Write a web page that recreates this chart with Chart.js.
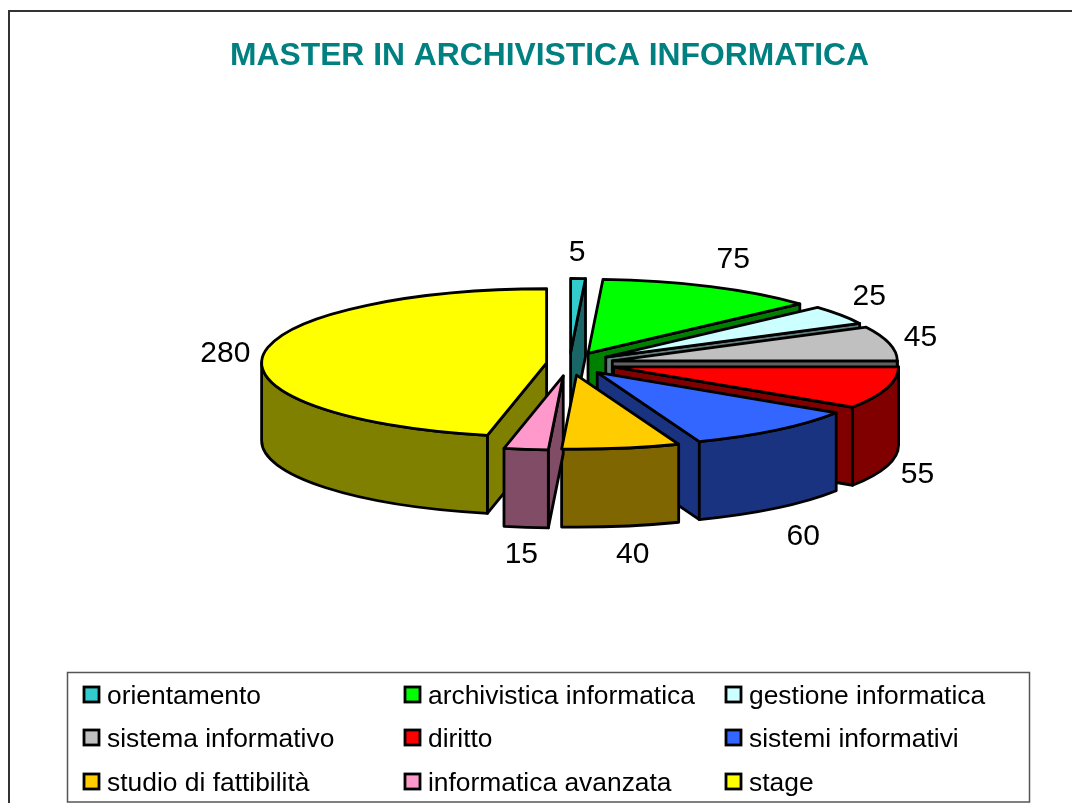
<!DOCTYPE html>
<html><head><meta charset="utf-8">
<script src="https://cdn.jsdelivr.net/npm/chart.js@4"></script>
<style>html,body{margin:0;padding:0;background:#fff;overflow:hidden}#w{position:absolute;left:0;top:0;width:1072px;height:803px}</style>
</head><body><div id="w"><canvas id="c" width="1072" height="803"></canvas></div>
<script>
const titleText = "MASTER IN ARCHIVISTICA INFORMATICA";
const categories = ["orientamento","archivistica informatica","gestione informatica","sistema informativo","diritto","sistemi informativi","studio di fattibilità","informatica avanzata","stage"];
const values = [5,75,25,45,55,60,40,15,280];
const colors = ["#33CCCC","#00FF00","#CCFFFF","#C0C0C0","#FF0000","#3366FF","#FFCC00","#FF99CC","#FFFF00"];
const wallColors = ["#1A6666","#008000","#668080","#606060","#800000","#1A3380","#806600","#804C66","#808000"];
const explode = [42,43,44,44,46,44,45,48,23];
const labelNudgeX = [-2,7,-1,-4,-4,4,6,0,-2];
const labelNudgeY = [0,-3,-4,0,1,9,3,2,1];

const FONT = '"Liberation Sans", Arial, sans-serif';
const TILT = 0.26, DEPTH = 78, LW = 2.8;

function geom(el, i){
  const mid = (el.startAngle + el.endAngle) / 2, d = explode[i];
  return {
    x: el.x + d * Math.cos(mid),
    y: el.y + TILT * d * Math.sin(mid),
    r: el.outerRadius, a1: el.startAngle, a2: el.endAngle, mid
  };
}
function pt(g, a, dz){ return [g.x + g.r * Math.cos(a), g.y + TILT * g.r * Math.sin(a) + (dz || 0)]; }
function paint(ctx, fill){
  ctx.fillStyle = fill; ctx.fill();
  ctx.lineWidth = LW; ctx.strokeStyle = "#000"; ctx.lineJoin = "round"; ctx.stroke();
}
function radialWall(ctx, g, a, fill){
  const p = pt(g, a);
  ctx.beginPath();
  ctx.moveTo(g.x, g.y); ctx.lineTo(p[0], p[1]);
  ctx.lineTo(p[0], p[1] + DEPTH); ctx.lineTo(g.x, g.y + DEPTH); ctx.closePath();
  paint(ctx, fill);
}
function outerWall(ctx, g, fill){
  const from = Math.max(g.a1, 0), to = Math.min(g.a2, Math.PI);
  if (to <= from) return;
  ctx.beginPath();
  ctx.ellipse(g.x, g.y, g.r, TILT * g.r, 0, from, to, false);
  ctx.ellipse(g.x, g.y + DEPTH, g.r, TILT * g.r, 0, to, from, true);
  ctx.closePath();
  paint(ctx, fill);
}

const pie3d = {
  id: "pie3d",
  afterLayout(chart){ chart.titleBlock.left -= 20; chart.titleBlock.right -= 20; },
  beforeDraw(chart){
    const ctx = chart.ctx;
    ctx.save();
    ctx.fillStyle = "#fff"; ctx.fillRect(0, 0, chart.width, chart.height);
    ctx.strokeStyle = "#333"; ctx.lineWidth = 2;
    ctx.beginPath(); ctx.moveTo(9, 803); ctx.lineTo(9, 11); ctx.lineTo(1072, 11); ctx.stroke();
    ctx.restore();
  },
  beforeDatasetDraw(chart, args){
    const ctx = chart.ctx, arcs = chart.getDatasetMeta(args.index).data;
    const gs = arcs.map(geom);
    const order = arcs.map((_, i) => i).sort((p, q) =>
      (gs[p].y + TILT * gs[p].r * Math.sin(gs[p].mid)) - (gs[q].y + TILT * gs[q].r * Math.sin(gs[q].mid)));
    ctx.save();
    // walls, back to front
    order.forEach(i => {
      const g = gs[i], t1 = g.a1 + Math.PI / 2, t2 = g.a2 + Math.PI / 2;
      if (Math.sin(t1) < -1e-6) radialWall(ctx, g, g.a1, wallColors[i]);
      if (Math.sin(t2) > 1e-6) radialWall(ctx, g, g.a2, wallColors[i]);
      outerWall(ctx, g, wallColors[i]);
    });
    // top faces, drawn by the library's arc elements under a tilt transform
    arcs.forEach((el, i) => {
      const g = gs[i];
      ctx.save();
      ctx.translate(g.x, g.y); ctx.scale(1, TILT); ctx.translate(-el.x, -el.y);
      el.draw(ctx);
      ctx.restore();
      ctx.beginPath();
      ctx.moveTo(g.x, g.y);
      ctx.ellipse(g.x, g.y, g.r, TILT * g.r, 0, g.a1, g.a2, false);
      ctx.closePath();
      ctx.lineWidth = LW; ctx.strokeStyle = "#000"; ctx.lineJoin = "round"; ctx.stroke();
    });
    // value labels
    ctx.fillStyle = "#000"; ctx.font = "30px " + FONT;
    ctx.textAlign = "center"; ctx.textBaseline = "middle";
    arcs.forEach((el, i) => {
      const g = gs[i], p = pt(g, g.mid), front = Math.sin(g.mid) > 0;
      ctx.fillText(String(values[i]),
        p[0] + 36 * Math.cos(g.mid) + labelNudgeX[i],
        p[1] + 26 * Math.sin(g.mid) + (front ? DEPTH : 0) + labelNudgeY[i]);
    });
    ctx.restore();
    return false;
  },
  afterDraw(chart){
    const ctx = chart.ctx;
    const colX = [83, 404, 725], rowY = [695, 738, 782];
    ctx.save();
    ctx.strokeStyle = "#555"; ctx.lineWidth = 1.5;
    ctx.strokeRect(67.5, 672.5, 962, 129.5);
    ctx.font = "26.4px " + FONT; ctx.textAlign = "left"; ctx.textBaseline = "middle";
    categories.forEach((name, i) => {
      const x = colX[i % 3], y = rowY[Math.floor(i / 3)];
      ctx.fillStyle = colors[i]; ctx.fillRect(x + 1, y - 8, 15, 15);
      ctx.strokeStyle = "#000"; ctx.lineWidth = 2.8; ctx.strokeRect(x + 1, y - 8, 15, 15);
      ctx.fillStyle = "#000"; ctx.fillText(name, x + 24, y + 2);
    });
    ctx.restore();
  }
};

new Chart(document.getElementById("c"), {
  type: "pie",
  plugins: [pie3d],
  data: { labels: categories, datasets: [{ data: values, backgroundColor: colors, borderWidth: 0, hoverOffset: 0 }] },
  options: {
    responsive: false, animation: false, radius: 285,
    layout: { padding: { left: 67, right: 0, top: 0, bottom: 160 } },
    events: [],
    plugins: {
      legend: { display: false }, tooltip: { enabled: false },
      title: { display: true, text: titleText, color: "#008080", align: "center",
        font: { family: FONT, size: 31.8, weight: "bold", lineHeight: 1.132 }, padding: { top: 38, bottom: 10 } }
    }
  }
});
</script></body></html>
